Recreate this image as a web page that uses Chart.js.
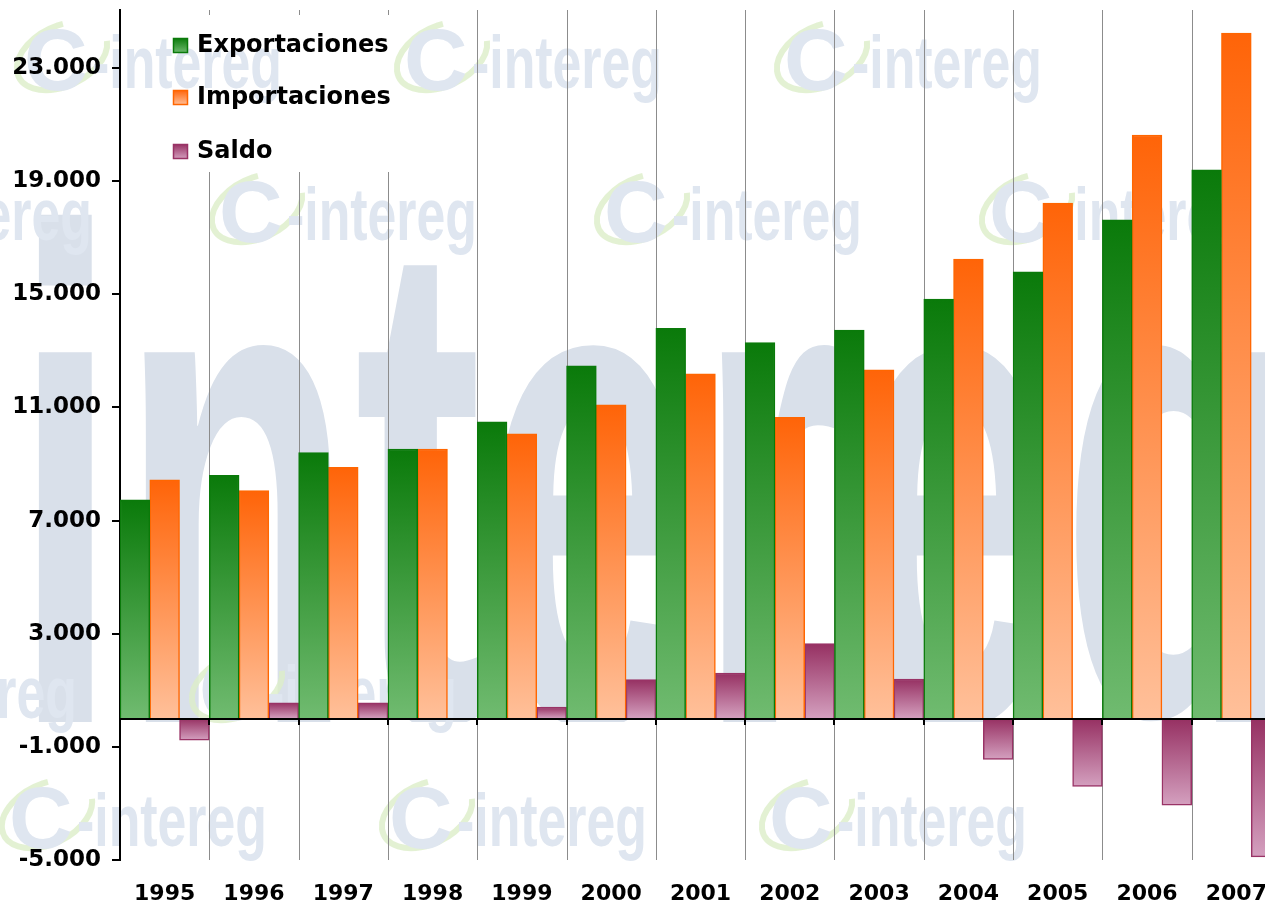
<!DOCTYPE html>
<html>
<head>
<meta charset="utf-8">
<script src="https://cdn.jsdelivr.net/npm/chart.js@4/dist/chart.umd.min.js"></script>
<style>
  html, body { margin: 0; padding: 0; background: #fff; overflow: hidden; }
  #wrap { width: 1281px; height: 903px; }
</style>
</head>
<body>
<div id="wrap"><canvas id="tradeChart" width="1281" height="903"></canvas></div>
<script>
const years = ['1995', '1996', '1997', '1998', '1999', '2000', '2001', '2002', '2003', '2004', '2005', '2006', '2007'];
const exportaciones = [7730, 8600, 9400, 9530, 10490, 12470, 13800, 13290, 13730, 14830, 15790, 17630, 19400];
const importaciones = [8440, 8060, 8880, 9530, 10070, 11090, 12190, 10650, 12330, 16240, 18220, 20630, 24230];
const saldo = [-760, 560, 560, 0, 410, 1380, 1610, 2650, 1400, -1440, -2400, -3060, -4890];
const yTicks = [-5000, -1000, 3000, 7000, 11000, 15000, 19000, 23000];

const FONT = '"DejaVu Sans", Verdana, sans-serif';

const colors = {
    exp: { top: '#0a7a0a', bottom: '#70bb70', border: '#0a7a0a' },
    imp: { top: '#ff6408', bottom: '#ffc09a', border: '#ff6600' },
    sal: { top: '#963062', bottom: '#d4a0bf', border: '#993366' }
};

function thousands(v) {
    const s = String(Math.abs(v)).replace(/\B(?=(\d{3})+(?!\d))/g, '.');
    return (v < 0 ? '-' : '') + s;
}

function barGradient(c) {
    return (context) => {
        const chart = context.chart;
        if (!chart.chartArea || context.type !== 'data') return c.top;
        const y = chart.scales.y;
        const v = context.raw;
        const y1 = y.getPixelForValue(Math.max(v, 0));
        const y2 = y.getPixelForValue(Math.min(v, 0));
        if (y2 - y1 < 1) return c.top;
        const g = chart.ctx.createLinearGradient(0, y1, 0, y2);
        g.addColorStop(0, c.top);
        g.addColorStop(1, c.bottom);
        return g;
    };
}

function drawLogo(ctx, x, y) {
    ctx.save();
    ctx.strokeStyle = 'rgba(220,238,200,0.8)';
    ctx.lineWidth = 6;
    ctx.beginPath();
    ctx.ellipse(x + 42, y - 4, 48, 30, -0.45, 0.2, Math.PI * 1.6);
    ctx.stroke();
    ctx.fillStyle = '#dfe6f0';
    ctx.font = 'bold 88px "Liberation Sans", Arial, sans-serif';
    ctx.textBaseline = 'alphabetic';
    ctx.fillText('C', x + 4, y + 30);
    ctx.translate(x + 72, y + 28);
    ctx.scale(0.7, 1);
    ctx.font = 'bold 74px "Liberation Sans", Arial, sans-serif';
    ctx.fillText('-intereg', 0, 0);
    ctx.restore();
}

const watermark = {
    id: 'watermark',
    beforeDraw(chart) {
        const ctx = chart.ctx;
        ctx.save();
        // big background word, cut at the zero line
        ctx.beginPath();
        ctx.rect(0, 0, chart.width, 722);
        ctx.clip();
        ctx.fillStyle = '#d9e0ea';
        ctx.translate(12, 722);
        ctx.scale(0.55, 1);
        ctx.font = 'bold 700px "Liberation Sans", Arial, sans-serif';
        ctx.fillText('intereg', 0, 0);
        ctx.restore();
        // small logos
        [[20, 60], [400, 60], [780, 60],
         [-170, 212], [215, 212], [600, 212], [985, 212],
         [-185, 690], [195, 690],
         [5, 818], [385, 818], [765, 818]].forEach(([x, y]) => drawLogo(ctx, x, y));
    }
};

const decorations = {
    id: 'decorations',
    beforeDatasetsDraw(chart) {
        const { ctx, chartArea } = chart;
        const w = (chartArea.right - chartArea.left) / years.length;
        ctx.save();
        ctx.strokeStyle = '#8c8c8c';
        ctx.lineWidth = 1;
        for (let i = 1; i <= years.length; i++) {
            const x = Math.round(chartArea.left + i * w) + 0.5;
            ctx.beginPath();
            if (x < 400) {
                ctx.moveTo(x, chartArea.top);
                ctx.lineTo(x, chartArea.top + 5);
                ctx.moveTo(x, 172);
            } else {
                ctx.moveTo(x, chartArea.top);
            }
            ctx.lineTo(x, chartArea.bottom);
            ctx.stroke();
        }
        ctx.restore();
    },
    afterDatasetsDraw(chart) {
        const { ctx, chartArea, scales } = chart;
        const w = (chartArea.right - chartArea.left) / years.length;
        const y0 = Math.round(scales.y.getPixelForValue(0));
        ctx.save();
        ctx.strokeStyle = '#000';
        ctx.lineWidth = 2;
        ctx.beginPath();
        ctx.moveTo(chartArea.left, y0);
        ctx.lineTo(chartArea.right, y0);
        for (let i = 1; i <= years.length; i++) {
            const x = Math.round(chartArea.left + i * w);
            ctx.moveTo(x, y0);
            ctx.lineTo(x, y0 + 6);
        }
        ctx.stroke();

        // legend
        const items = [['Exportaciones', colors.exp, 45], ['Importaciones', colors.imp, 97], ['Saldo', colors.sal, 151]];
        ctx.font = 'bold 24px ' + FONT;
        ctx.textBaseline = 'middle';
        items.forEach(([label, c, cy]) => {
            const g = ctx.createLinearGradient(0, cy - 7, 0, cy + 8);
            g.addColorStop(0, c.top);
            g.addColorStop(1, c.bottom);
            ctx.fillStyle = g;
            ctx.fillRect(173, cy - 7, 15, 15);
            ctx.strokeStyle = c.border;
            ctx.lineWidth = 1.5;
            ctx.strokeRect(173.5, cy - 6.5, 14, 14);
            ctx.fillStyle = '#000';
            ctx.fillText(label, 197, cy + 1);
        });
        ctx.restore();
    }
};

new Chart(document.getElementById('tradeChart'), {
    type: 'bar',
    data: {
        labels: years,
        datasets: [{
            label: 'Exportaciones',
            data: exportaciones,
            backgroundColor: barGradient(colors.exp),
            borderColor: colors.exp.border,
            borderWidth: 1.5
        }, {
            label: 'Importaciones',
            data: importaciones,
            backgroundColor: barGradient(colors.imp),
            borderColor: colors.imp.border,
            borderWidth: 1.5
        }, {
            label: 'Saldo',
            data: saldo,
            backgroundColor: barGradient(colors.sal),
            borderColor: colors.sal.border,
            borderWidth: 1.5
        }]
    },
    options: {
        responsive: false,
        animation: false,
        layout: { padding: { top: 10, left: 0, right: 0, bottom: 0 } },
        datasets: { bar: { categoryPercentage: 1, barPercentage: 1 } },
        plugins: {
            legend: { display: false },
            tooltip: { enabled: false }
        },
        scales: {
            x: {
                grid: { display: false },
                border: { display: false },
                ticks: { color: '#000', padding: 13, font: { family: FONT, size: 22, weight: 'bold' } },
                afterFit: (s) => { s.height = 43; s.paddingLeft = 0; s.paddingRight = 0; }
            },
            y: {
                min: -5000,
                max: 25050,
                afterBuildTicks: (s) => { s.ticks = yTicks.map(value => ({ value })); },
                grid: { drawOnChartArea: false, drawTicks: true, tickLength: 8, color: '#000', lineWidth: 2 },
                border: { display: true, color: '#000', width: 2 },
                ticks: {
                    color: '#000',
                    padding: 11,
                    font: { family: FONT, size: 23, weight: 'bold' },
                    callback: (v) => thousands(v)
                },
                afterFit: (s) => { s.width = 120; s.paddingTop = 0; s.paddingBottom = 0; }
            }
        }
    },
    plugins: [watermark, decorations]
});
</script>
</body>
</html>
